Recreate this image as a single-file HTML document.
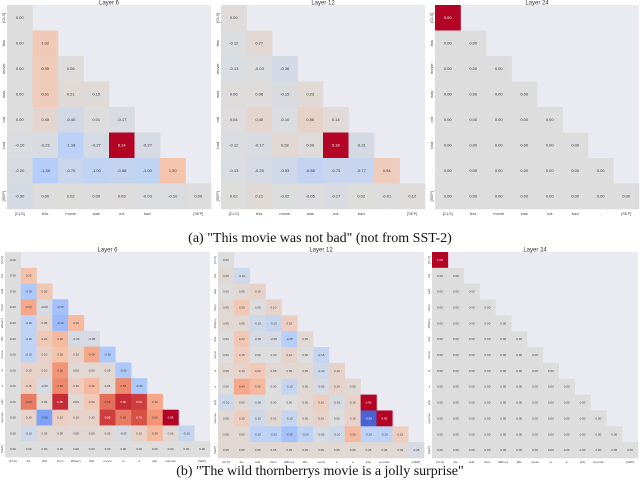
<!DOCTYPE html>
<html><head><meta charset="utf-8">
<style>
html,body{margin:0;padding:0;background:#fff;}
svg{display:block;}
.cap{font-family:"Liberation Serif",serif;font-size:14px;fill:#111;}
.ttl{font-family:"Liberation Sans",sans-serif;font-size:6px;fill:#333;}
.lbl{font-family:"Liberation Sans",sans-serif;fill:#444;}
</style></head>
<body>
<svg id="fig" width="640" height="488" viewBox="0 0 640 488">
<text class="cap" x="320" y="242" text-anchor="middle">(a) "This movie was not bad" (not from SST-2)</text>
<text class="cap" x="320" y="475" text-anchor="middle">(b) "The wild thornberrys movie is a jolly surprise"</text>
</svg>
<script>
const tokensA = ["[CLS]","this","movie","was","not","bad",".","[SEP]"];
const tokensB = ["[CLS]","the","wild","thorn","##berry","##s","movie","is","a","jolly","surprise",".","[SEP]"];
const valsA6 = [
[0.00],
[0.00,1.02],
[0.00,0.95,0.06],
[0.00,0.91,0.21,0.15],
[0.00,0.40,-0.40,0.01,-0.17],
[-0.10,-0.22,-1.18,-0.27,5.14,-0.27],
[-0.20,-1.38,-0.70,-1.00,-0.88,-1.00,1.30],
[-0.30,0.00,0.02,0.00,0.03,-0.03,-0.10,0.00]];
const valsA12 = [
[0.09],
[-0.12,0.27],
[-0.13,-0.03,-0.36],
[0.06,0.06,-0.15,0.23],
[0.04,0.40,-0.10,0.56,0.14],
[-0.12,-0.17,0.28,0.06,5.18,-0.31],
[-0.13,-0.25,-0.53,-0.88,-0.75,-0.77,0.94],
[0.02,0.21,-0.02,-0.05,-0.17,0.02,-0.01,0.12]];
const valsA24 = [
[5.00],
[-0.00,0.00],
[-0.00,0.00,0.00],
[-0.00,-0.00,-0.00,0.00],
[-0.00,0.00,-0.00,0.00,0.00],
[-0.00,-0.00,-0.00,-0.00,-0.00,0.00],
[-0.00,0.00,-0.00,0.00,-0.00,-0.00,0.00],
[-0.00,-0.00,-0.00,-0.00,-0.00,-0.00,-0.00,0.00]];
const valsB6 = [
[0],
[0,0.25],
[0,-0.3,0.2],
[0,0.4,-0.05,-0.35],
[0,-0.2,0.08,-0.4,0.3],
[0,-0.2,0.2,0.3,-0.05,-0.05],
[0,-0.2,0.1,0.25,0.1,0.4,-0.3],
[0,0.1,0.1,0.5,0.05,0.05,0.05,-0.3],
[0,0.15,-0.05,0.55,0.15,0.3,0.05,0.55,-0.3],
[0,0.6,0.05,0.85,0.05,0.2,0.65,0.85,0.8,0.4],
[0,0.1,-0.55,0.15,0.1,0.1,0.8,0.6,0.75,0.5,0.95],
[0,-0.1,0.05,0.05,0.05,0.05,0.05,-0.05,0.1,0.3,0.05,-0.15],
[0,0,0,0,0,0,0,0,0,0,0,0,0]];
const valsB12 = [
[0],
[0.05,-0.1],
[0.0,0.05,0.1],
[0.05,0.2,0.0,0.1],
[0.05,0.05,-0.1,-0.15,0.15],
[0.0,0.2,-0.05,-0.05,-0.25,0.05],
[0.0,0.15,0.0,0.0,0.1,0.0,-0.15],
[0.05,0.1,0.2,0.05,0.05,0.05,-0.1,0.1],
[0.0,0.4,0.3,0.0,-0.15,0.05,-0.05,0.1,0.05],
[-0.1,0.05,-0.05,0.0,0.0,0.05,0.15,-0.05,0.1,0.95],
[0.05,0.15,-0.1,0.05,-0.15,0.05,0.1,0.0,0.1,-0.85,0.95],
[0.05,0.05,-0.2,-0.2,-0.35,-0.2,-0.05,-0.1,0.3,-0.2,-0.2,0.15],
[0.05,0.05,0.05,0.05,0.05,0.05,0.05,0.05,0.05,0.05,0.05,0.05,-0.05]];
const valsB24 = [
[1.0],
[0,0],[0,0,0],[0,0,0,0],[0,0,0,0,0],[0,0,0,0,0,0],[0,0,0,0,0,0,0],
[0,0,0,0,0,0,0,0],[0,0,0,0,0,0,0,0,0],[0,0,0,0,0,0,0,0,0,0],
[0,0,0,0,0,0,0,0,0,0,0],[0,0,0,0,0,0,0,0,0,0,0,0],[0,0,0,0,0,0,0,0,0,0,0,0,0]];
const layerTitles = ["Layer 6","Layer 12","Layer 24"];

const NS="http://www.w3.org/2000/svg";
const svg=document.getElementById('fig');
const stops=[[0,59,76,192],[0.125,98,130,234],[0.25,141,176,254],[0.375,184,208,249],[0.5,221,221,221],[0.625,245,196,173],[0.75,244,154,123],[0.875,222,96,77],[1,180,4,38]];
function coolwarm(t){t=Math.max(0,Math.min(1,t));for(let i=1;i<stops.length;i++){if(t<=stops[i][0]){const a=stops[i-1],b=stops[i];const f=(t-a[0])/(b[0]-a[0]);return 'rgb('+[1,2,3].map(k=>Math.round(a[k]+(b[k]-a[k])*f)).join(',')+')';}}return 'rgb(180,4,38)';}
function mk(tag,attrs){const e=document.createElementNS(NS,tag);for(const k in attrs)e.setAttribute(k,attrs[k]);return e;}

function panel(vals,tokens,x0,y0,size,title,fs,idx){
  const g=mk('g',{});
  
  
  svg.appendChild(g);
  const n=tokens.length, c=size/n;
  const bg=mk('rect',{x:x0,y:y0,width:size,height:size,fill:'#eaeaf2'});
  
  
  g.appendChild(bg);
  let vmax=0;vals.forEach(r=>r.forEach(v=>{vmax=Math.max(vmax,Math.abs(v));}));
  if(vmax===0)vmax=1;
  const xs=j=>x0+j*c, ys=i=>y0+i*c;
  vals.forEach((row,i)=>row.forEach((v,j)=>{
    const t=0.5+v/(2*vmax);
    const r=mk('rect',{x:xs(j),y:ys(i),width:c+0.3,height:c+0.3,fill:coolwarm(t)});
    
    
    g.appendChild(r);
    const tx=mk('text',{x:xs(j)+c/2,y:ys(i)+c/2+fs*0.35,'text-anchor':'middle','font-size':fs,'font-family':'Liberation Sans, sans-serif',fill:Math.abs(t-0.5)>0.35?'#fff':'#333'});
    tx.textContent=v.toFixed(2);
    
    
    g.appendChild(tx);
  }));
  tokens.forEach((tk,k)=>{
    const xl=mk('text',{x:xs(k)+c/2,y:y0+size+fs+2,'text-anchor':'middle','font-size':fs,class:'lbl'});
    xl.textContent=tk;
    
    
    g.appendChild(xl);
    const yx=x0-2, yy=ys(k)+c/2;
    const yl=mk('text',{x:yx,y:yy,'text-anchor':'middle','font-size':fs,class:'lbl',transform:'rotate(-90 '+yx+' '+yy+')'});
    yl.textContent=tk;
    
    
    g.appendChild(yl);
  });
  const tt=mk('text',{x:x0+size/2,y:y0-0.5,'text-anchor':'middle',class:'ttl'});
  tt.textContent=title;
  
  
  g.appendChild(tt);
}
panel(valsA6,tokensA,7,5,204,layerTitles[0],4,'a6');
panel(valsA12,tokensA,221,5,204,layerTitles[1],4,'a12');
panel(valsA24,tokensA,435,5,204,layerTitles[2],4,'a24');
panel(valsB6,tokensB,5,252,205,layerTitles[0],3,'b6');
panel(valsB12,tokensB,218,252,206,layerTitles[1],3,'b12');
panel(valsB24,tokensB,432,252,206,layerTitles[2],3,'b24');
</script>
</body></html>
